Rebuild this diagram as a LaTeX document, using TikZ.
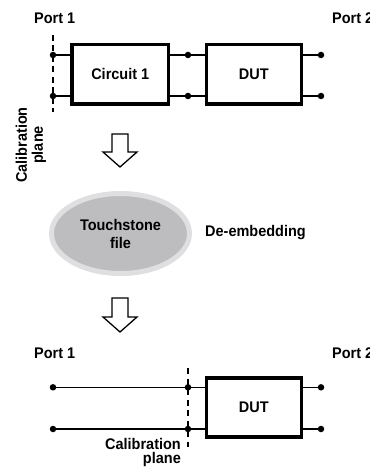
\documentclass[tikz,border=0pt]{standalone}
\usepackage{fontspec}
\usetikzlibrary{shapes.geometric}
\setmainfont{Liberation Sans}[FakeStretch=0.94]
\definecolor{ellfill}{HTML}{BDBDC0}
\definecolor{ellrim}{HTML}{DFDFE1}
\begin{document}
\begin{tikzpicture}[x=1bp,y=1bp,
  lbl/.style={font=\fontsize{15.4bp}{16bp}\selectfont\bfseries, inner sep=0pt},
  box/.style={draw, line width=3.5bp, lbl},
  wire/.style={line width=1.3bp},
  cal/.style={line width=1.3bp, dash pattern=on 6bp off 4.5bp},
  dot/.style={circle, fill, inner sep=0pt, minimum size=6.5bp},
  hollow/.style={draw, line width=1.3bp, fill=white, line join=miter},
  ell/.style={ellipse, fill=ellfill, draw=ellrim, line width=5bp, minimum width=138bp, minimum height=80bp, align=center, font=\fontsize{15.4bp}{18bp}\selectfont\bfseries, inner sep=0pt}
]
\useasboundingbox (0,0) rectangle (369,-467);

% ---------- top circuit ----------
\node[lbl, anchor=west] (p1a) at (34,-18.5) {Port 1};
\node[lbl, anchor=west] (p2a) at (332,-18.5) {Port 2};

\node[box, minimum width=96.5bp, minimum height=59.3bp] (c1) at (120.25,-74.3) {Circuit 1};
\node[box, minimum width=95bp, minimum height=59.3bp] (dut1) at (253.8,-74.3) {DUT};

\coordinate (cpa) at (53,-35);
\coordinate (cpb) at (53,-112);
\draw[cal] (cpa) -- (cpb);

\node[dot] (a1) at (53,-55) {};
\node[dot] (a2) at (53,-96) {};
\node[dot] (a3) at (188,-55) {};
\node[dot] (a4) at (188,-96) {};
\node[dot] (a5) at (321,-55) {};
\node[dot] (a6) at (321,-96) {};

\draw[wire] (a1.center) -- (c1.west |- a1);
\draw[wire] (a2.center) -- (c1.west |- a2);
\draw[wire] (c1.east |- a3) -- (dut1.west |- a3);
\draw[wire] (c1.east |- a4) -- (dut1.west |- a4);
\draw[wire] (dut1.east |- a5) -- (a5.center);
\draw[wire] (dut1.east |- a6) -- (a6.center);

\node[lbl, rotate=90, align=center, font=\fontsize{15.4bp}{16bp}\selectfont\bfseries] (cal1) at (31,-145) {Calibration\\plane};

% ---------- arrow 1 ----------
\draw[hollow] (112,-134) -- (128,-134) -- (128,-152) -- (137,-152) -- (120,-167) -- (103,-152) -- (112,-152) -- cycle;

% ---------- ellipse ----------
\node[ell] (ts) at (120.5,-233.5) {Touchstone\\file};
\node[lbl, anchor=west] (de) at (205,-233) {De-embedding};

% ---------- arrow 2 ----------
\draw[hollow] (112,-298) -- (128,-298) -- (128,-317) -- (137,-317) -- (120,-332) -- (103,-317) -- (112,-317) -- cycle;

% ---------- bottom circuit ----------
\node[lbl, anchor=west] (p1b) at (34,-353) {Port 1};
\node[lbl, anchor=west] (p2b) at (332,-353) {Port 2};

\node[box, minimum width=95bp, minimum height=59bp] (dut2) at (253.8,-407.5) {DUT};

\coordinate (cpc) at (188,-368);
\coordinate (cpd) at (188,-447);
\draw[cal] (cpc) -- (cpd);

\node[dot] (b1) at (53,-387.3) {};
\node[dot] (b2) at (53,-429) {};
\node[dot] (b3) at (188,-387.3) {};
\node[dot] (b4) at (188,-429) {};
\node[dot] (b5) at (321,-387.3) {};
\node[dot] (b6) at (321,-429) {};

\draw[wire] (b1.center) -- (dut2.west |- b1);
\draw[wire] (b2.center) -- (dut2.west |- b2);
\draw[wire] (dut2.east |- b5) -- (b5.center);
\draw[wire] (dut2.east |- b6) -- (b6.center);

\node[lbl, anchor=north east, align=right, font=\fontsize{15.4bp}{14bp}\selectfont\bfseries] (cal2) at (181,-438.5) {Calibration\\plane};
\end{tikzpicture}
\end{document}
